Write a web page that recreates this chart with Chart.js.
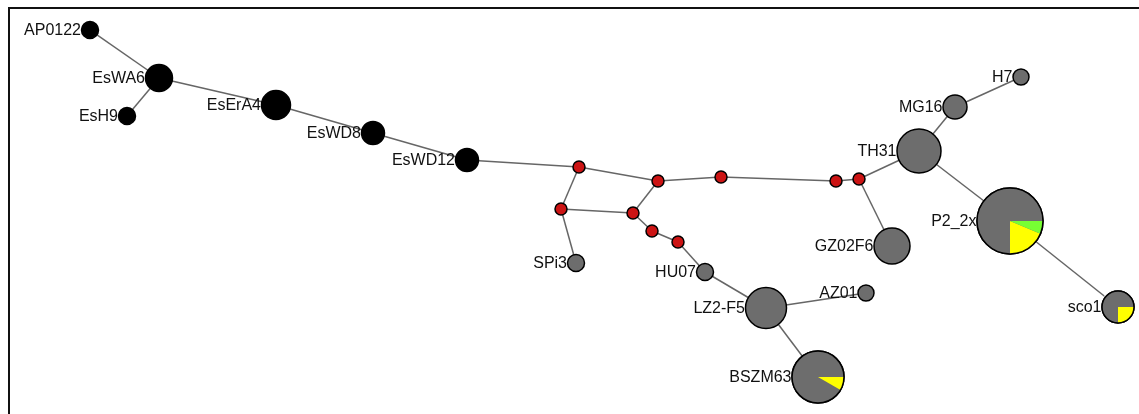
<!DOCTYPE html>
<html>
<head>
<meta charset="utf-8">
<script src="https://cdn.jsdelivr.net/npm/chart.js@4/dist/chart.umd.min.js"></script>
<style>
  html, body { margin: 0; padding: 0; background: #fff; overflow: hidden; }
  #wrap { position: relative; width: 1139px; height: 414px; }
  #frame { position: absolute; left: 8px; top: 7px; width: 1131px; height: 407px;
           border-top: 2px solid #111; border-left: 2px solid #111; box-sizing: border-box; pointer-events: none; }
  canvas { position: absolute; left: 0; top: 0; }
</style>
</head>
<body>
<div id="wrap">
  <canvas id="c" width="1139" height="414"></canvas>
  <div id="frame"></div>
</div>
<script>
// ---- Data ----
const nodeNames  = ['AP0122','EsWA6','EsH9','EsErA4','EsWD8','EsWD12',
                    'm1','m2','m3','m4','m5','m6','m7','m8','m9',
                    'SPi3','HU07','LZ2-F5','AZ01','BSZM63',
                    'TH31','MG16','H7','GZ02F6','P2_2x','sco1'];
const nodeLabels = ['AP0122','EsWA6','EsH9','EsErA4','EsWD8','EsWD12',
                    '','','','','','','','','',
                    'SPi3','HU07','LZ2-F5','AZ01','BSZM63',
                    'TH31','MG16','H7','GZ02F6','P2_2x','sco1'];
const nodeX = [90,159,127,276,373,467,
               579,561,658,633,721,652,678,836,859,
               576,705,766,866,818,
               919,955,1021,892,1010,1118];
const nodeY = [30,78,116,105,133,160,
               167,209,181,213,177,231,242,181,179,
               263,272,308,293,377,
               151,107,77,246,221,307];
const nodeR = [8.5,13.5,8.5,14.5,11.5,11.5,
               6,6,6,6,6,6,6,6,6,
               8.5,8.5,20.5,8,26,
               22,12,8,18,33,16];
const nodeGroup = ['black','black','black','black','black','black',
                   'red','red','red','red','red','red','red','red','red',
                   'gray','gray','gray','gray','gray',
                   'gray','gray','gray','gray','gray','gray'];
const edgeFrom = ['AP0122','EsWA6','EsWA6','EsErA4','EsWD8','EsWD12','m1','m1','m2','m2','m3','m3','m5','m8','m9','m9','TH31','MG16','TH31','P2_2x','m4','m6','m7','HU07','LZ2-F5','LZ2-F5'];
const edgeTo   = ['EsWA6','EsH9','EsErA4','EsWD8','EsWD12','m1','m2','m3','m4','SPi3','m4','m5','m8','m9','TH31','GZ02F6','MG16','H7','P2_2x','sco1','m6','m7','HU07','LZ2-F5','AZ01','BSZM63'];
const pieNodes  = ['BSZM63','P2_2x','sco1'];
const pieGray   = [11, 12, 3];
const pieYellow = [1, 3, 1];
const pieGreen  = [0, 1, 0];

// ---- Styles ----
const groupColor = { black: '#000000', red: '#cc1414', gray: '#6d6d6d' };
const sliceColors = ['#6d6d6d', '#ffff00', '#77ff33'];

const idx = name => nodeNames.indexOf(name);

const edgeDatasets = edgeFrom.map((f, i) => {
  const a = idx(f), b = idx(edgeTo[i]);
  return {
    type: 'line',
    data: [{x: nodeX[a], y: nodeY[a]}, {x: nodeX[b], y: nodeY[b]}],
    borderColor: '#666666',
    borderWidth: 1.5,
    pointRadius: 0,
    fill: false,
    order: 10
  };
});

const nodeDataset = {
  type: 'bubble',
  data: nodeNames.map((n, i) => ({x: nodeX[i], y: nodeY[i], r: nodeR[i]})),
  backgroundColor: nodeGroup.map(g => groupColor[g]),
  borderColor: '#000000',
  borderWidth: 1.5,
  hoverRadius: 0,
  order: 0,
  clip: false
};

const piePlugin = {
  id: 'pies',
  afterDatasetsDraw(chart) {
    const ctx = chart.ctx, xs = chart.scales.x, ys = chart.scales.y;
    pieNodes.forEach((name, k) => {
      const i = idx(name);
      const cx = xs.getPixelForValue(nodeX[i]);
      const cy = ys.getPixelForValue(nodeY[i]);
      const r = nodeR[i];
      const parts = [pieGray[k], pieYellow[k], pieGreen[k]];
      const total = parts.reduce((s, v) => s + v, 0);
      let a = 0;
      parts.forEach((v, j) => {
        if (!v) return;
        const sweep = v / total * Math.PI * 2;
        ctx.beginPath();
        ctx.moveTo(cx, cy);
        ctx.arc(cx, cy, r, -a, -(a + sweep), true);
        ctx.closePath();
        ctx.fillStyle = sliceColors[j];
        ctx.fill();
        a += sweep;
      });
      ctx.beginPath();
      ctx.arc(cx, cy, r, 0, Math.PI * 2);
      ctx.lineWidth = 1.5;
      ctx.strokeStyle = '#000';
      ctx.stroke();
    });
  }
};

const labelPlugin = {
  id: 'nodeLabels',
  afterDraw(chart) {
    const ctx = chart.ctx, xs = chart.scales.x, ys = chart.scales.y;
    ctx.save();
    ctx.font = '16px "Liberation Sans", Arial, sans-serif';
    ctx.fillStyle = '#111';
    ctx.textAlign = 'right';
    ctx.textBaseline = 'middle';
    nodeLabels.forEach((lab, i) => {
      if (!lab) return;
      const cx = xs.getPixelForValue(nodeX[i]);
      const cy = ys.getPixelForValue(nodeY[i]);
      ctx.fillText(lab, cx - nodeR[i] - 0.5, cy + 1);
    });
    ctx.restore();
  }
};

const chart = new Chart(document.getElementById('c'), {
  type: 'bubble',
  data: { datasets: [nodeDataset, ...edgeDatasets] },
  options: {
    responsive: false,
    animation: false,
    layout: { padding: 0 },
    plugins: { legend: { display: false }, tooltip: { enabled: false } },
    events: [],
    scales: {
      x: { type: 'linear', min: 0, max: 1139, display: false },
      y: { type: 'linear', min: 0, max: 414, reverse: true, display: false }
    }
  },
  plugins: [piePlugin, labelPlugin]
});
// Make the value axes match the canvas pixel grid (chart area is inset by bubble overflow)
const area = chart.chartArea;
chart.options.scales.x.min = area.left;
chart.options.scales.x.max = area.right;
chart.options.scales.y.min = area.top;
chart.options.scales.y.max = area.bottom;
chart.update();
</script>
</body>
</html>
